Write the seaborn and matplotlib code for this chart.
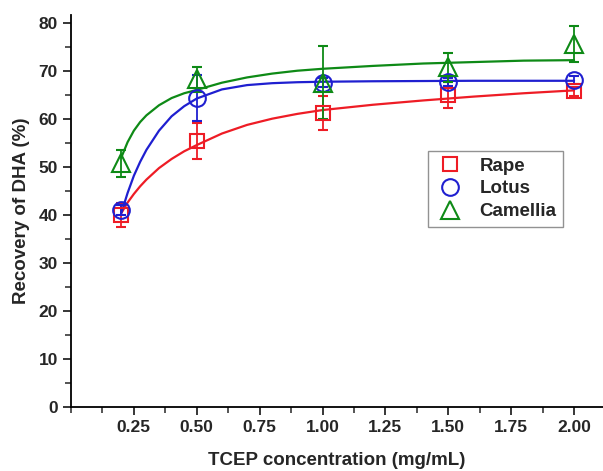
import numpy as np
import pandas as pd
import seaborn as sns
import matplotlib
matplotlib.use('Agg')
from matplotlib import pyplot as plt
from matplotlib.ticker import MultipleLocator

# measured points
conc = [0.2, 0.5, 1.0, 1.5, 2.0]
rape = [40.0, 55.5, 61.3, 65.0, 65.8]
rape_err = [2.5, 3.8, 3.5, 2.7, 1.0]
lotus = [41.0, 64.4, 67.6, 67.8, 68.1]
lotus_err = [1.0, 4.8, 1.0, 0.8, 0.8]
camellia = [50.8, 68.3, 67.6, 70.8, 75.7]
camellia_err = [2.8, 2.6, 7.6, 3.0, 3.8]

# fitted curves
fit_x = [0.2, 0.225, 0.25, 0.275, 0.3, 0.35, 0.4, 0.45, 0.5, 0.6, 0.7, 0.8, 0.9, 1.0,
         1.2, 1.4, 1.6, 1.8, 2.0]
rape_fit = [40.4, 42.6, 44.4, 46.0, 47.4, 49.8, 51.7, 53.3, 54.6, 57.0, 58.8, 60.1, 61.1, 61.9,
            63.0, 63.9, 64.7, 65.4, 66.0]
lotus_fit = [40.4, 44.6, 48.2, 51.1, 53.6, 57.6, 60.6, 62.7, 64.3, 66.2, 67.1, 67.5, 67.7, 67.8,
             67.9, 67.95, 68.0, 68.0, 68.0]
camellia_fit = [52.0, 55.2, 57.6, 59.4, 60.8, 62.9, 64.4, 65.4, 66.1, 67.6, 68.7, 69.5, 70.1, 70.5,
                71.1, 71.6, 71.9, 72.2, 72.3]

series = [
  ("Rape", rape, rape_err, rape_fit, "#ee1c25", "s", 10),
  ("Lotus", lotus, lotus_err, lotus_fit, "#1f1fd0", "o", 12),
  ("Camellia", camellia, camellia_err, camellia_fit, "#0e8a16", "^", 13),
]

sns.set_style("ticks")
plt.rcParams['font.family'] = ['Liberation Sans', 'DejaVu Sans']
plt.rcParams['font.weight'] = 'bold'

fig = plt.figure(figsize=(6.03, 4.71), dpi=100)
ax = fig.add_axes([0.1177, 0.136, 0.8823, 0.832])

handles = []
for name, y, err, fit, color, marker, ms in series:
  df = pd.DataFrame({"x": fit_x, "y": fit})
  sns.lineplot(data=df, x="x", y="y", color=color, linewidth=1.6, ax=ax)
  ax.errorbar(conc, y, yerr=err, fmt=marker, color=color, mfc='none', mec=color,
              ms=ms, mew=1.5, elinewidth=1.3, capsize=3.5, capthick=1.3)
  handles.append(ax.plot([], [], marker, color=color, mfc='none', ms=ms, mew=1.5)[0])

ax.set_xlim(0, 2.115)
ax.set_ylim(0, 81.7)
ax.xaxis.set_minor_locator(MultipleLocator(0.125))
ax.yaxis.set_major_locator(MultipleLocator(10))
ax.yaxis.set_minor_locator(MultipleLocator(5))
ax.set_xticks([0.25, 0.5, 0.75, 1.0, 1.25, 1.5, 1.75, 2.0])
ax.set_xticklabels(["0.25", "0.50", "0.75", "1.00", "1.25", "1.50", "1.75", "2.00"])
ax.tick_params(which='major', direction='out', length=6, width=1.3, labelsize=12.5)
ax.tick_params(which='minor', direction='out', length=4, width=1.1)
for s in ['left', 'bottom']:
  ax.spines[s].set_linewidth(1.3)
  ax.spines[s].set_color('black')
sns.despine(ax=ax)

ax.set_xlabel("TCEP concentration (mg/mL)", fontsize=13.5, fontweight='bold', labelpad=12)
ax.set_ylabel("Recovery of DHA (%)", fontsize=13.5, fontweight='bold', labelpad=6)

leg = ax.legend(handles, [s[0] for s in series], loc='upper left', bbox_to_anchor=(0.671, 0.653),
                borderaxespad=0, fancybox=False, edgecolor='#777777', fontsize=13.5,
                handletextpad=0.8, labelspacing=0.3, borderpad=0.35, handlelength=1.6)
leg.get_frame().set_linewidth(1.0)

plt.savefig("out.png", dpi=100)
plt.close()
